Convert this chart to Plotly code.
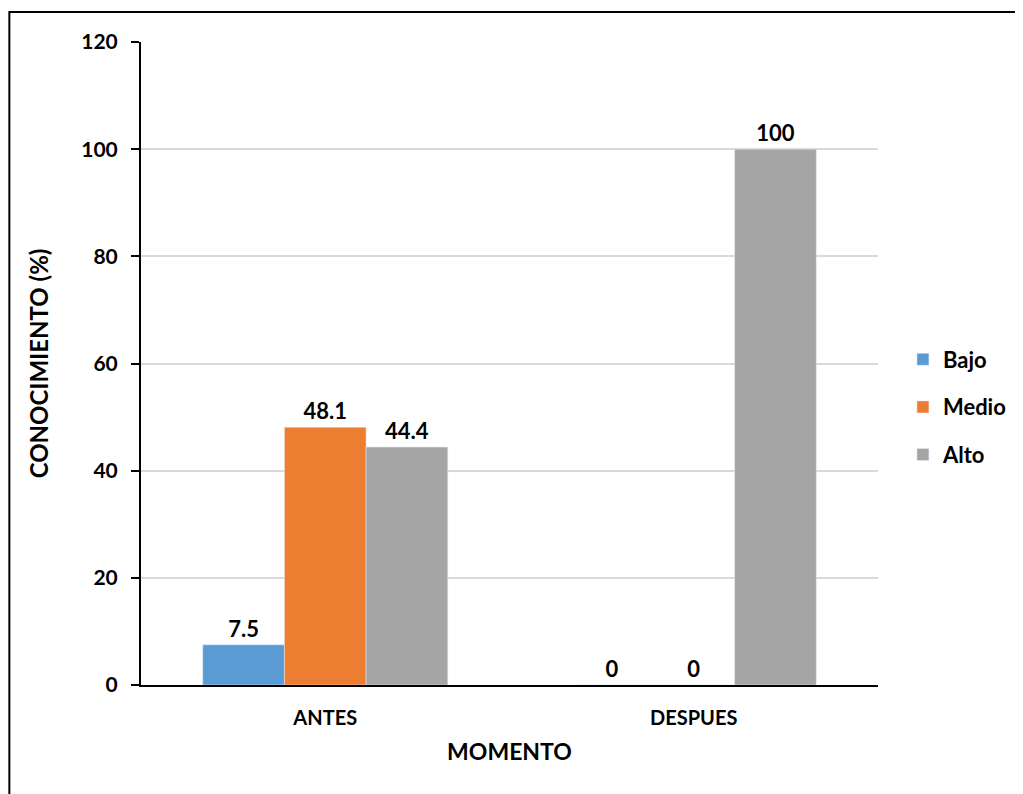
import plotly.graph_objects as go

categories = ["ANTES", "DESPUES"]
series_names = ["Bajo", "Medio", "Alto"]
bajo = [7.5, 0]
medio = [48.1, 0]
alto = [44.4, 100]
colors = ["#5B9BD5", "#ED7D31", "#A5A5A5"]
y_ticks = [0, 20, 40, 60, 80, 100, 120]

FONT = "Lato"
fig = go.Figure()
for i, (name, vals) in enumerate(zip(series_names, [bajo, medio, alto])):
    fig.add_trace(go.Bar(
        x=categories, y=vals, name=name, marker_color=colors[i],
        text=[f"{v:g}" for v in vals], textposition="outside",
        textfont=dict(family=FONT, size=22, color="black", weight="bold"),
        cliponaxis=False, legendgroup=name,
    ))

# page has an 8px body margin; figure is sized to fit the window
W, H = 1015, 786
L, R, T, B = 133, 143, 34, 109
pw, ph = W - L - R, H - T - B

fig.update_layout(
    width=W, height=H,
    margin=dict(l=L, r=R, t=T, b=B),
    barmode="group", bargap=0.335, bargroupgap=0,
    plot_bgcolor="white", paper_bgcolor="white",
    font=dict(family=FONT, size=20, color="black", weight="bold"),
    legend=dict(x=(897 - L) / pw, y=(H - B - 399) / ph, xanchor="left", yanchor="middle",
                traceorder="grouped", tracegroupgap=16,
                font=dict(family=FONT, size=22, color="black", weight="bold")),
    xaxis=dict(
        title=dict(text="MOMENTO", font=dict(family=FONT, size=23, weight="bold"), standoff=16),
        showline=True, linecolor="black", linewidth=2, ticks="",
        ticklabelstandoff=14,
        tickfont=dict(family=FONT, size=20, weight="bold"),
    ),
    yaxis=dict(
        title=dict(text="CONOCIMIENTO (%)", font=dict(family=FONT, size=24, weight="bold"), standoff=26),
        range=[0, 120], tickvals=y_ticks, showline=True, linecolor="black", linewidth=2,
        ticks="outside", ticklen=8, tickwidth=2, tickcolor="black",
        ticklabelstandoff=9,
        gridcolor="#D9D9D9", gridwidth=1.5, zeroline=False,
        tickfont=dict(family=FONT, size=21, weight="bold"),
    ),
    shapes=[dict(
        type="rect", xref="paper", yref="paper", layer="above",
        x0=(1 - L) / pw, x1=(W + 20 - L) / pw,
        y0=(H - B - (H + 20)) / ph, y1=(H - B - 4) / ph,
        line=dict(color="black", width=2), fillcolor="rgba(0,0,0,0)",
    )],
)

fig.write_html("out.html")
